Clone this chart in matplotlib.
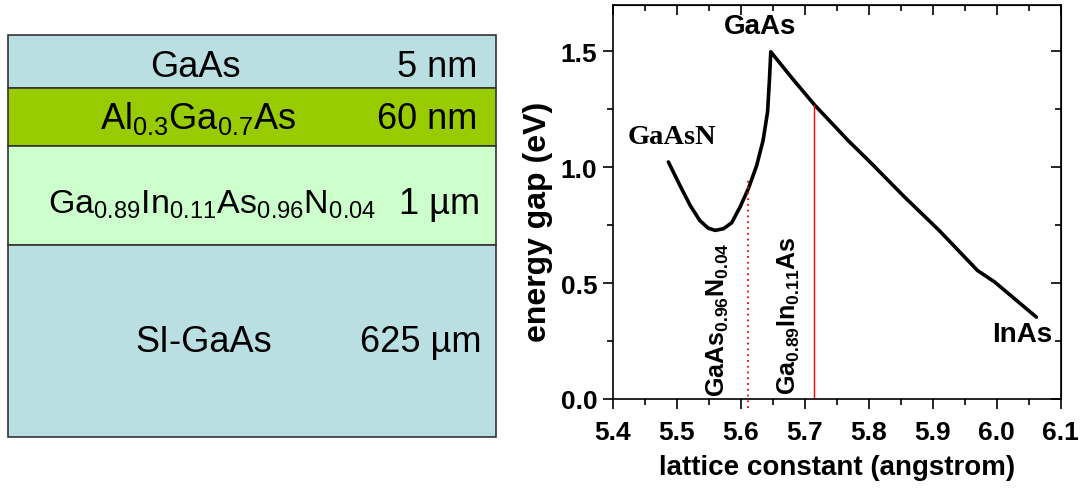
import matplotlib
matplotlib.use('Agg')
import matplotlib.pyplot as plt
from matplotlib.patches import Rectangle
from matplotlib.ticker import MultipleLocator, FormatStrFormatter

plt.rcParams['font.family'] = 'Liberation Sans'
plt.rcParams['mathtext.fontset'] = 'custom'
plt.rcParams['mathtext.rm'] = 'Liberation Sans'
plt.rcParams['mathtext.bf'] = 'Liberation Sans:bold'

# layer stack, top to bottom
layer_names = ['GaAs', r'$\mathrm{Al_{0.3}Ga_{0.7}As}$',
               r'$\mathrm{Ga_{0.89}In_{0.11}As_{0.96}N_{0.04}}$', 'SI-GaAs']
layer_thickness = ['5 nm', '60 nm', '1 µm', '625 µm']
layer_colors = ['#b9dfe3', '#99cc00', '#ccffcc', '#b9dfe3']

# band gap vs lattice constant (GaAsN -> GaAs -> InAs)
lattice = [5.487, 5.505, 5.521, 5.536, 5.549, 5.560, 5.573, 5.586, 5.599,
           5.612, 5.625, 5.635, 5.642, 5.645, 5.647, 5.680, 5.715, 5.768,
           5.802, 5.856, 5.910, 5.970, 5.997, 6.062]
gap = [1.022, 0.921, 0.835, 0.770, 0.737, 0.727, 0.734, 0.760, 0.828,
       0.907, 1.007, 1.115, 1.238, 1.382, 1.497, 1.384, 1.269, 1.114,
       1.022, 0.871, 0.727, 0.554, 0.504, 0.353]

# lattice constants of the two alloys used in the stack
a_gaasn = 5.611
a_gainas = 5.715
gaasn_top = 0.95
gainas_gap = 1.269

fig = plt.figure(figsize=(10.84, 4.89), dpi=100)

# ---- left: layer structure ----
W, H = 1084, 489
axl = fig.add_axes([8 / W, 1 - 438 / H, 488 / W, 402 / H])
axl.set_xlim(0, 488)
axl.set_ylim(402, 0)
axl.axis('off')

box_heights = [53, 58, 99, 192]
name_x = [142, 92, 40, 127]
name_size = [26, 26, 24.5, 26]
base_off = [40.7, 40, 66.7, 105.7]
thick_x = [469, 469, 472, 473]

top = 0
for i, h in enumerate(box_heights):
    axl.add_patch(Rectangle((0, top), 488, h, facecolor=layer_colors[i],
                            edgecolor='#333333', lw=1.2, clip_on=False))
    axl.text(name_x[i], top + base_off[i], layer_names[i], fontsize=name_size[i],
             ha='left', va='baseline')
    axl.text(thick_x[i], top + base_off[i], layer_thickness[i], fontsize=26,
             ha='right', va='baseline')
    top += h

# ---- right: energy gap ----
ax = fig.add_axes([612.7 / W, 89 / H, 448 / W, 394.3 / H])
ax.plot(lattice, gap, color='black', lw=2.6, solid_joinstyle='round',
        solid_capstyle='round')
ax.plot([a_gaasn, a_gaasn], [-0.04, gaasn_top], color='red', lw=1.3,
        linestyle=(0, (1, 2.2)), clip_on=False)
ax.plot([a_gainas, a_gainas], [0, gainas_gap], color='red', lw=1.0)

ax.set_xlim(5.4, 6.1)
ax.set_ylim(0, 1.70)
ax.xaxis.set_major_locator(MultipleLocator(0.1))
ax.xaxis.set_minor_locator(MultipleLocator(0.05))
ax.yaxis.set_major_locator(MultipleLocator(0.5))
ax.yaxis.set_minor_locator(MultipleLocator(0.25))
ax.xaxis.set_major_formatter(FormatStrFormatter('%.1f'))
ax.yaxis.set_major_formatter(FormatStrFormatter('%.1f'))
ax.tick_params(which='major', direction='out', length=7, width=1.2,
               labelsize=19, pad=4)
ax.tick_params(axis='x', which='major', pad=8)
ax.tick_params(which='minor', direction='out', length=4, width=1.2)
for lab in ax.get_xticklabels() + ax.get_yticklabels():
    lab.set_fontweight('bold')
for sp in ax.spines.values():
    sp.set_linewidth(1.2)

# mirrored inward ticks on top and right
sx = ax.secondary_xaxis('top')
sx.xaxis.set_major_locator(MultipleLocator(0.1))
sx.xaxis.set_minor_locator(MultipleLocator(0.05))
sx.tick_params(which='major', direction='in', length=7, width=1.2, labeltop=False)
sx.tick_params(which='minor', direction='in', length=4, width=1.2)
sy = ax.secondary_yaxis('right')
sy.yaxis.set_major_locator(MultipleLocator(0.5))
sy.yaxis.set_minor_locator(MultipleLocator(0.25))
sy.tick_params(which='major', direction='in', length=7, width=1.2, labelright=False)
sy.tick_params(which='minor', direction='in', length=4, width=1.2)

ax.set_xlabel('lattice constant (angstrom)', fontsize=20, fontweight='bold')
ax.xaxis.set_label_coords(0.5, -0.139)
ax.set_ylabel('energy gap (eV)', fontsize=23, fontweight='bold')
ax.yaxis.set_label_coords(-0.133, 0.451)

ax.text(5.424, 1.13, 'GaAsN', family='Liberation Serif', fontweight='bold',
        fontsize=20.5, ha='left', va='center')
ax.text(5.6306, 1.609, 'GaAs', fontweight='bold', fontsize=20,
        ha='center', va='center')
ax.text(6.0864, 0.281, 'InAs', fontweight='bold', fontsize=20,
        ha='right', va='center')
ax.text(5.564, 0.013, r'$\mathbf{GaAs_{0.96}N_{0.04}}$', fontsize=18,
        rotation=90, ha='center', va='bottom')
ax.text(5.675, 0.02, r'$\mathbf{Ga_{0.89}In_{0.11}As}$', fontsize=18,
        rotation=90, ha='center', va='bottom')

fig.savefig('out.png', dpi=100)
